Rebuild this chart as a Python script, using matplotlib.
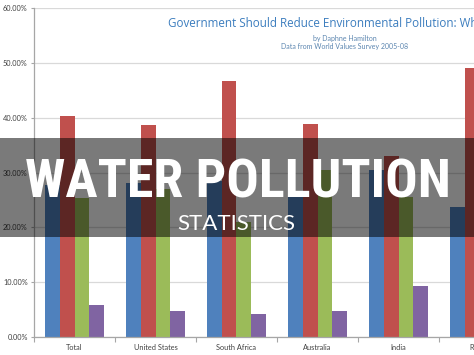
import matplotlib
matplotlib.use("Agg")
import numpy as np
import matplotlib.pyplot as plt
from matplotlib.patches import Rectangle
from matplotlib.ticker import FuncFormatter

# ========== data (share of respondents, %) ==========
countries = ["Total", "United States", "South Africa", "Australia", "India", "Russia"]
strongly_agree = [27.8, 28.0, 28.5, 25.5, 30.4, 23.7]
agree = [40.3, 38.7, 46.7, 38.9, 33.1, 49.1]
disagree = [25.4, 27.0, 21.0, 30.4, 25.5, 22.0]
strongly_disagree = [5.9, 4.8, 4.2, 4.8, 9.3, 4.0]
series_names = ["Strongly agree", "Agree", "Disagree", "Strongly disagree"]
y_ticks = [0, 10, 20, 30, 40, 50, 60]

colors = ["#4F81BD", "#C0504D", "#9BBB59", "#8064A2"]
W, H = 474, 355


def fx(px):
    return px / W


def fy(py):
    return 1 - py / H


fig = plt.figure(figsize=(W / 100, H / 100), dpi=100)
fig.patch.set_facecolor("white")

# plot area runs off the right edge of the slide
ax = fig.add_axes([fx(34), fy(337), 486 / W, 329 / H])

x = np.arange(len(countries))
bw = 0.18
for i, vals in enumerate([strongly_agree, agree, disagree, strongly_disagree]):
    ax.bar(x + (i - 1.5) * bw, vals, width=bw, color=colors[i],
           label=series_names[i], zorder=2)

ax.set_xlim(-0.5, len(countries) - 0.5)
ax.set_ylim(0, 60)
ax.set_yticks(y_ticks)
ax.yaxis.set_major_formatter(FuncFormatter(lambda v, p: f"{v:.2f}%"))
ax.yaxis.grid(True, color="#D9D9D9", lw=0.9, zorder=0)
ax.set_axisbelow(True)

ax.set_xticks(x)
ax.set_xticklabels(countries)
ax.set_xticks(np.arange(len(countries) + 1) - 0.5, minor=True)
ax.tick_params(axis="x", which="major", length=0, pad=5,
               labelsize=5.3, labelcolor="#404040")
ax.tick_params(axis="x", which="minor", length=3.5, color="#A6A6A6", width=0.8)
ax.tick_params(axis="y", length=2.5, color="#A6A6A6", width=0.8, pad=2,
               labelsize=5.3, labelcolor="#404040")
for lab in ax.get_xticklabels() + ax.get_yticklabels():
    lab.set_family(["Lato", "DejaVu Sans"])

for s in ["top", "right"]:
    ax.spines[s].set_visible(False)
for s in ["left", "bottom"]:
    ax.spines[s].set_color("#A6A6A6")
    ax.spines[s].set_linewidth(0.9)

# chart titles
fig.text(fx(168), fy(24), "Government Should Reduce Environmental Pollution: Who Pays?",
         ha="left", va="center", fontsize=8.4, color="#3C7DBE",
         family=["Open Sans", "DejaVu Sans"])
fig.text(fx(345), fy(38), "by Daphne Hamilton", ha="center", va="center",
         fontsize=5, color="#5C86B0", family=["Lato", "DejaVu Sans"])
fig.text(fx(345), fy(47), "Data from World Values Survey 2005-08", ha="center",
         va="center", fontsize=5, color="#5C86B0", family=["Lato", "DejaVu Sans"])

# ========== slide overlay ==========
fig.add_artist(Rectangle((0, fy(237)), 1, 99 / H, transform=fig.transFigure,
                         facecolor="black", alpha=0.52, edgecolor="none", zorder=5))
headline = fig.text(fx(238), fy(197), "WATER POLLUTION", ha="center", va="baseline",
                    fontsize=40, fontweight="heavy", color="white",
                    family=["Roboto Condensed", "Open Sans Condensed",
                            "DejaVu Sans Condensed", "DejaVu Sans"],
                    fontstretch="condensed", zorder=6)
fig.text(fx(236), fy(230), "STATISTICS", ha="center", va="baseline",
         fontsize=16, color="white", family=["Lato", "DejaVu Sans"], zorder=6)

# keep the headline inside the slide width (about 423 px wide in the original)
renderer = fig.canvas.get_renderer()
wpx = headline.get_window_extent(renderer).width
if wpx > 425:
    headline.set_fontsize(40 * 425 / wpx)

fig.savefig("out.png", dpi=100)
